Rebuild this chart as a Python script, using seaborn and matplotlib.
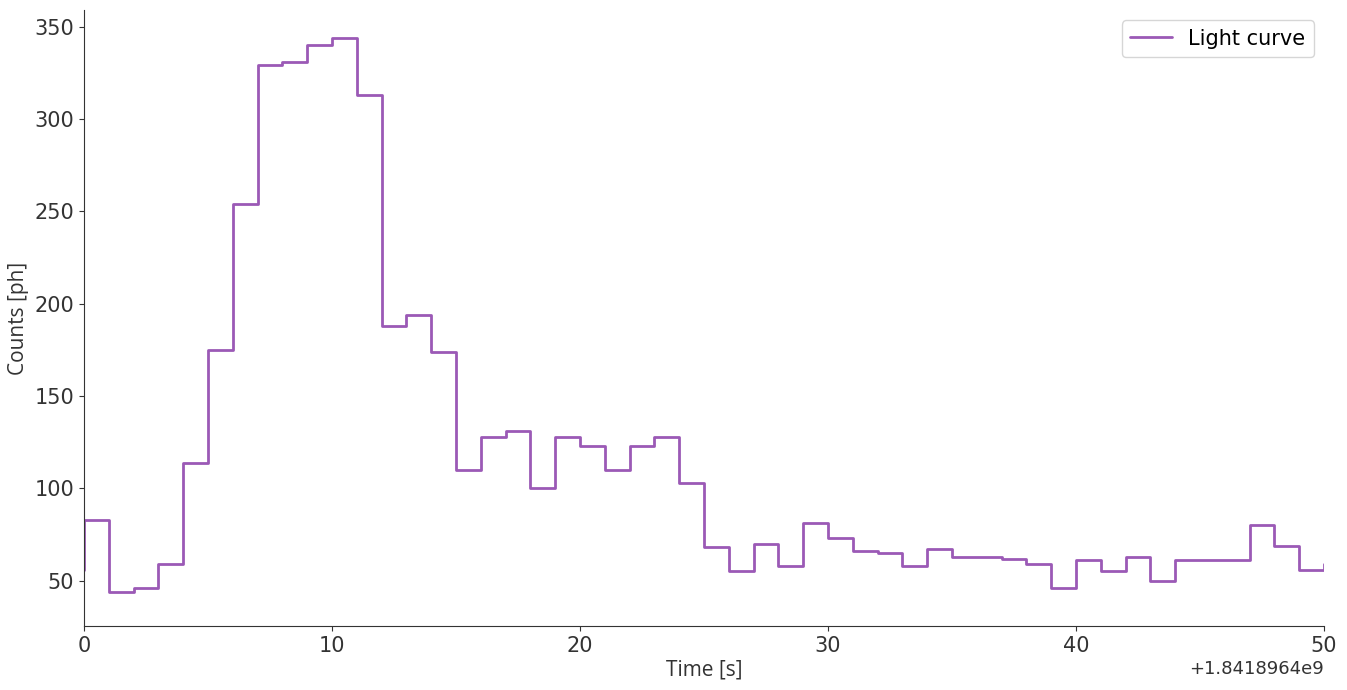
import numpy as np
import pandas as pd
import matplotlib
matplotlib.use("Agg")
import matplotlib.pyplot as plt
import seaborn as sns

t_offset = 1.8418964e9
# bin start times relative to the offset (one bin before 0 and after 50 are clipped by xlim)
time_rel = list(range(-1, 51))
counts = [56, 83, 44, 46, 59, 114, 175, 254, 329, 331,
          340, 344, 313, 188, 194, 174, 110, 128, 131, 100,
          128, 123, 110, 123, 128, 103, 68, 55, 70, 58,
          81, 73, 66, 65, 58, 67, 63, 63, 62, 59,
          46, 61, 55, 63, 50, 61, 61, 61, 80, 69,
          56, 59]

data = pd.DataFrame({"Time": t_offset + np.array(time_rel, dtype=float), "Counts": counts})

sns.set_style("ticks")
plt.rcParams["font.family"] = ["DejaVu Sans"]

fig, ax = plt.subplots(figsize=(13.47, 6.9), dpi=100)
fig.subplots_adjust(left=0.0624, right=0.983, top=0.9855, bottom=0.0928)

sns.lineplot(data=data, x="Time", y="Counts", drawstyle="steps-post",
             color="#9b59b6", linewidth=2, label="Light curve", ax=ax)

ax.set_xlim(t_offset + 0, t_offset + 50)
ax.set_ylim(25.5, 359)
ax.set_xticks(t_offset + np.arange(0, 51, 10))
ax.set_yticks([50, 100, 150, 200, 250, 300, 350])
ax.tick_params(labelsize=15, colors="#333333", labelcolor="#333333")
ax.xaxis.get_offset_text().set_fontsize(13)
ax.xaxis.get_offset_text().set_color("#333333")

ax.set_xlabel("Time [s]", fontsize=15, family="Open Sans", color="#333333", labelpad=3)
ax.set_ylabel("Counts [ph]", fontsize=15, family="Open Sans", color="#333333", labelpad=4)
for side in ["left", "bottom"]:
    ax.spines[side].set_color("#333333")
sns.despine(ax=ax)

leg = ax.legend(loc="upper right", fontsize=15, frameon=True)
for txt in leg.get_texts():
    txt.set_color("black")

plt.savefig("out.png", dpi=100)
plt.close()
